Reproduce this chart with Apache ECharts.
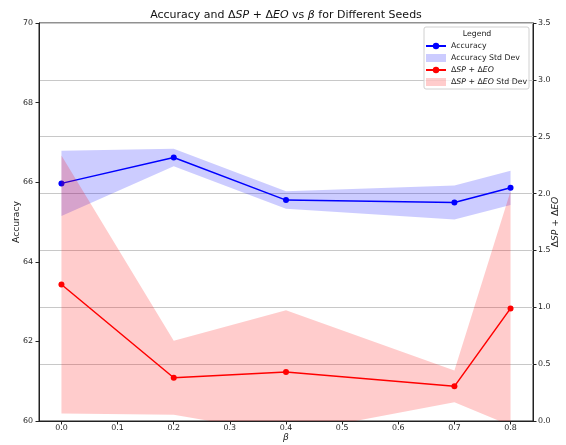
<!DOCTYPE html>
<html><head><meta charset="utf-8">
<script src="https://cdn.jsdelivr.net/npm/echarts@6/dist/echarts.min.js"></script>
<style>html,body{margin:0;padding:0;background:#fff}#c{width:566px;height:445px}</style>
</head><body><div id="c"></div>
<script>
const betas = [0.0, 0.2, 0.4, 0.7, 0.8];
const accMean = [65.97, 66.62, 65.55, 65.49, 65.86];
const accStd = [0.82, 0.22, 0.22, 0.43, 0.43];
const fairMean = [1.20, 0.38, 0.43, 0.305, 0.99];
const fairStd = [1.135, 0.325, 0.545, 0.14, 1.03];
const xTicks = [0.0, 0.1, 0.2, 0.3, 0.4, 0.5, 0.6, 0.7, 0.8];

const FONT = 'DejaVu Sans';
const LFS = 7.8;
const NFS = 9.2;
const pts = (ys) => betas.map((x, i) => [x, ys[i]]);

function band(mean, std, fill) {
  return function (params, api) {
    if (params.dataIndex !== 0) return null;
    const up = betas.map((x, i) => api.coord([x, mean[i] + std[i]]));
    const lo = betas.map((x, i) => api.coord([x, mean[i] - std[i]])).reverse();
    return {type: 'polygon', shape: {points: up.concat(lo)}, style: {fill: fill}};
  };
}

const rich = {
  i: {fontStyle: 'italic', fontFamily: FONT, fontSize: LFS, color: '#222'}
};
const legendNames = {
  'Accuracy': 'Accuracy',
  'Accuracy Std Dev': 'Accuracy Std Dev',
  'dfair': 'Δ{i|SP} + Δ{i|EO}',
  'dfair Std Dev': 'Δ{i|SP} + Δ{i|EO} Std Dev'
};
const BLUE_F = 'rgba(0,0,255,0.2)';
const RED_F = 'rgba(255,0,0,0.2)';

const chart = echarts.init(document.getElementById('c'));
chart.setOption({
  animation: false,
  backgroundColor: '#fff',
  title: {
    text: 'Accuracy and Δ{t|SP} + Δ{t|EO} vs {t|β} for Different Seeds',
    left: 286, top: 10, textAlign: 'center', padding: 0,
    textStyle: {fontFamily: FONT, fontSize: 11, fontWeight: 'normal', color: '#111',
      rich: {t: {fontStyle: 'italic', fontFamily: FONT, fontSize: 11, color: '#111'}}}
  },
  grid: {left: 39, right: 33, top: 23, bottom: 24, outerBoundsMode: 'none', containLabel: false,
    show: true, borderColor: '#222', borderWidth: 1, backgroundColor: 'transparent'},
  graphic: [
    {type: 'rect', z: 3, shape: {x: 424, y: 27, width: 105, height: 62, r: 2},
     style: {fill: 'rgba(255,255,255,0.8)', stroke: '#d0d0d0', lineWidth: 1}},
    {type: 'text', z: 3, x: 477, y: 34, style: {text: 'Legend', fontFamily: FONT, fontSize: LFS, fill: '#222', align: 'center', verticalAlign: 'middle'}}
  ],
  legend: {
    orient: 'vertical', left: 425, top: 41, itemGap: 2, itemWidth: 20, itemHeight: 8, padding: 0,
    z: 5,
    textStyle: {fontFamily: FONT, fontSize: LFS, color: '#222', lineHeight: 10, rich: rich},
    formatter: n => legendNames[n] || n,
    data: [
      {name: 'Accuracy'},
      {name: 'Accuracy Std Dev', icon: 'rect', itemStyle: {color: BLUE_F}},
      {name: 'dfair'},
      {name: 'dfair Std Dev', icon: 'rect', itemStyle: {color: RED_F}}
    ]
  },
  xAxis: {
    type: 'value', min: -0.04, max: 0.84,
    name: 'β', nameLocation: 'middle', nameGap: 12, nameMoveOverlap: false,
    nameTextStyle: {fontFamily: FONT, fontSize: NFS, fontStyle: 'italic', color: '#222'},
    axisLine: {show: true, onZero: false, lineStyle: {color: '#222'}},
    axisTick: {show: true, length: 3.5, customValues: xTicks, lineStyle: {color: '#222'}},
    axisLabel: {customValues: xTicks, formatter: v => v.toFixed(1), fontFamily: FONT, fontSize: 7.9, color: '#222', margin: 3},
    splitLine: {show: false}
  },
  yAxis: [
    {
      type: 'value', min: 60, max: 70, interval: 2,
      name: 'Accuracy', nameLocation: 'middle', nameGap: 18, nameMoveOverlap: false,
      nameTextStyle: {fontFamily: FONT, fontSize: NFS, color: '#222'},
      axisLine: {show: true, onZero: false, lineStyle: {color: '#222'}},
      axisTick: {show: true, length: 3.5, lineStyle: {color: '#222'}},
      axisLabel: {fontFamily: FONT, fontSize: 7.9, color: '#222', margin: 6},
      splitLine: {show: false}
    },
    {
      type: 'value', min: 0, max: 3.5, interval: 0.5, position: 'right',
      name: 'Δ{i|SP} + Δ{i|EO}', nameLocation: 'middle', nameGap: 18, nameMoveOverlap: false,
      nameTextStyle: {fontFamily: FONT, fontSize: NFS, color: '#222',
        rich: {i: {fontStyle: 'italic', fontFamily: FONT, fontSize: NFS, color: '#222'}}},
      axisLine: {show: true, onZero: false, lineStyle: {color: '#222'}},
      axisTick: {show: true, length: 3.5, lineStyle: {color: '#222'}},
      axisLabel: {formatter: v => v.toFixed(1), fontFamily: FONT, fontSize: 7.9, color: '#222', margin: 5},
      splitLine: {show: true, lineStyle: {color: '#c8c8c8', width: 1}}
    }
  ],
  series: [
    {name: 'Accuracy Std Dev', type: 'custom', yAxisIndex: 0, clip: true,
     renderItem: band(accMean, accStd, BLUE_F), data: [[betas[0], accMean[0]]],
     itemStyle: {color: BLUE_F}, silent: true, z: 1},
    {name: 'Accuracy', type: 'line', yAxisIndex: 0, data: pts(accMean),
     symbol: 'circle', symbolSize: 6, color: '#0000ff',
     lineStyle: {color: '#0000ff', width: 1.5}, itemStyle: {color: '#0000ff'}, z: 3},
    {name: 'dfair Std Dev', type: 'custom', yAxisIndex: 1, clip: true,
     renderItem: band(fairMean, fairStd, RED_F), data: [[betas[0], fairMean[0]]],
     itemStyle: {color: RED_F}, silent: true, z: 4},
    {name: 'dfair', type: 'line', yAxisIndex: 1, data: pts(fairMean),
     symbol: 'circle', symbolSize: 6, color: '#ff0000',
     lineStyle: {color: '#ff0000', width: 1.5}, itemStyle: {color: '#ff0000'}, z: 5}
  ]
});
</script>
</body></html>
